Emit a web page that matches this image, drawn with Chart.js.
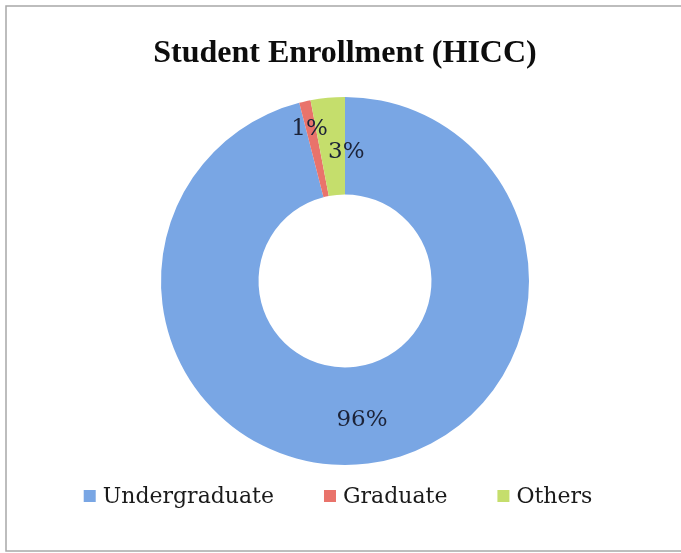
<!DOCTYPE html>
<html>
<head>
<meta charset="utf-8">
<title>Student Enrollment (HICC)</title>
<script src="https://cdn.jsdelivr.net/npm/chart.js@4/dist/chart.umd.min.js"></script>
<style>
  html, body { margin: 0; padding: 0; background: #ffffff; }
  #wrap { position: relative; width: 681px; height: 553px; }
</style>
</head>
<body>
<div id="wrap"><canvas id="chart" width="681" height="553"></canvas></div>
<script>
// Enrollment shares (percent) by student type
const categories = ['Undergraduate', 'Graduate', 'Others'];
const shares = [96, 1, 3];
const sliceColors = ['#79a6e4', '#e9736b', '#c5de6c'];
const chartTitle = 'Student Enrollment (HICC)';

const serif = '"DejaVu Serif", "Liberation Serif", serif';

// White page with a thin grey frame
const framePlugin = {
  id: 'frame',
  beforeDraw(chart) {
    const ctx = chart.ctx;
    ctx.save();
    ctx.fillStyle = '#ffffff';
    ctx.fillRect(0, 0, chart.width, chart.height);
    ctx.strokeStyle = '#a8a8a8';
    ctx.lineWidth = 1.5;
    ctx.strokeRect(6, 6, chart.width + 10, chart.height - 2 - 6);
    ctx.restore();
  }
};

// Percent labels drawn inside each ring segment
const sliceLabels = {
  id: 'sliceLabels',
  afterDatasetsDraw(chart, args, opts) {
    const ctx = chart.ctx;
    const meta = chart.getDatasetMeta(0);
    ctx.save();
    ctx.font = opts.font;
    ctx.fillStyle = opts.color;
    ctx.textAlign = 'center';
    ctx.textBaseline = 'middle';
    meta.data.forEach((arc, i) => {
      const p = arc.tooltipPosition();
      const off = (opts.offsets && opts.offsets[i]) || [0, 0];
      ctx.fillText(chart.data.datasets[0].data[i] + '%', p.x + off[0], p.y + off[1]);
    });
    ctx.restore();
  }
};

// Legend row under the ring, with wide gaps between items
const bottomLegend = {
  id: 'bottomLegend',
  afterDraw(chart, args, opts) {
    const ctx = chart.ctx;
    const ds = chart.data.datasets[0];
    ctx.save();
    ctx.font = opts.font;
    ctx.textBaseline = 'middle';
    ctx.textAlign = 'left';
    const widths = chart.data.labels.map(t => opts.box + opts.boxGap + ctx.measureText(t).width);
    const total = widths.reduce((a, b) => a + b, 0) + opts.itemGap * (widths.length - 1);
    let x = opts.centerX - total / 2;
    chart.data.labels.forEach((t, i) => {
      ctx.fillStyle = ds.backgroundColor[i];
      ctx.fillRect(x, opts.y - opts.box / 2, opts.box, opts.box);
      ctx.fillStyle = opts.color;
      ctx.fillText(t, x + opts.box + opts.boxGap, opts.y + 1);
      x += widths[i] + opts.itemGap;
    });
    ctx.restore();
  }
};

new Chart(document.getElementById('chart'), {
  type: 'doughnut',
  data: {
    labels: categories,
    datasets: [{
      data: shares,
      backgroundColor: sliceColors,
      borderWidth: 0,
      hoverOffset: 0
    }]
  },
  options: {
    responsive: false,
    animation: false,
    cutout: '47%',
    layout: { padding: { left: 9, right: 0, top: 0, bottom: 88 } },
    plugins: {
      legend: { display: false },
      tooltip: { enabled: false },
      title: {
        display: true,
        text: chartTitle,
        color: '#0d0d0d',
        font: { family: '"Liberation Serif", "Times New Roman", serif', size: 32, weight: 'bold' },
        padding: { top: 35, bottom: 23.6 }
      },
      sliceLabels: {
        font: '23px ' + serif,
        color: '#1c2338',
        offsets: [[0, 5], [-6, -20], [14, 6]]
      },
      bottomLegend: {
        font: '22px ' + serif,
        color: '#1a1a1a',
        box: 12,
        boxGap: 7,
        itemGap: 50,
        centerX: 338,
        y: 496
      }
    }
  },
  plugins: [framePlugin, sliceLabels, bottomLegend]
});
</script>
</body>
</html>
